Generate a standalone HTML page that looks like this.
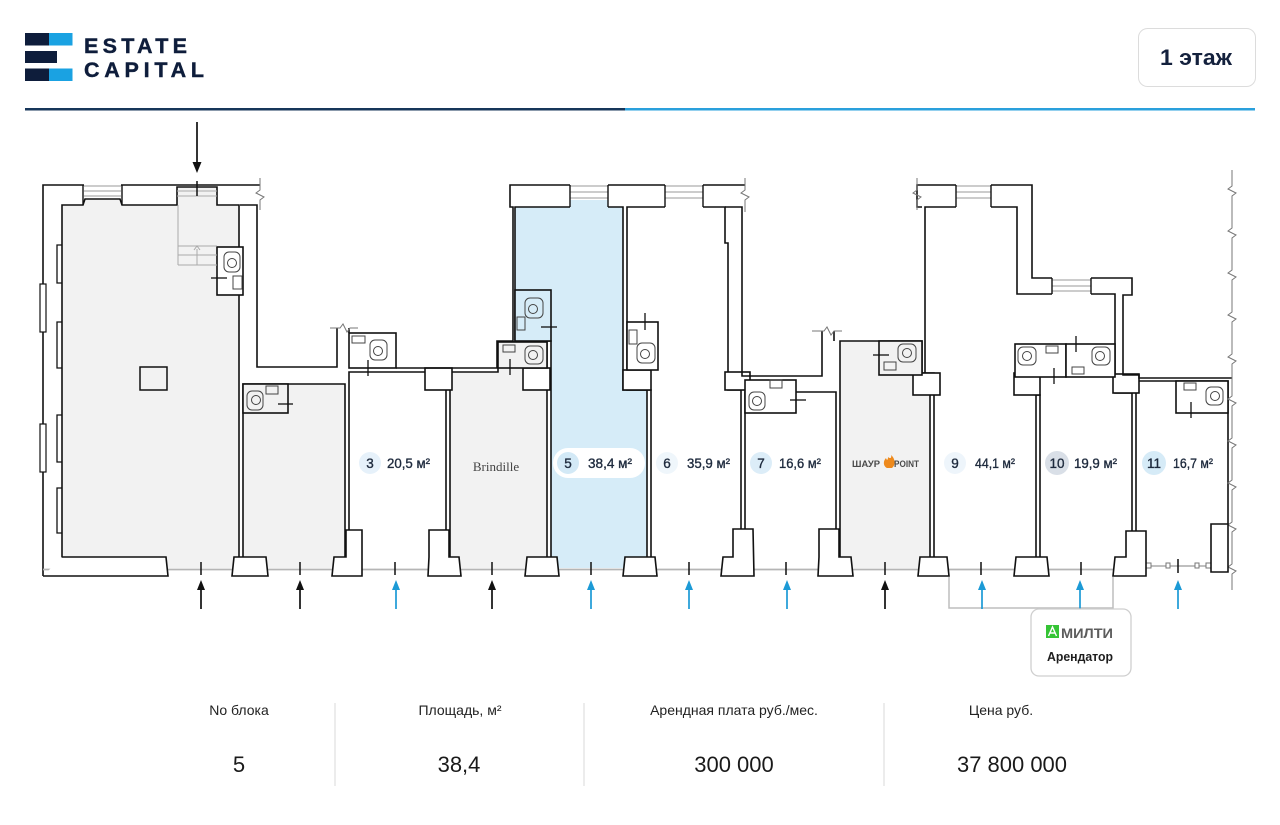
<!DOCTYPE html>
<html><head><meta charset="utf-8">
<style>
html,body{margin:0;padding:0;background:#fff;}
svg{display:block;}
text{font-family:"Liberation Sans","Noto Sans CJK SC",sans-serif;}
.g{fill:#f2f2f2;stroke:#111;stroke-width:1.6;}
.w{fill:#fff;stroke:#111;stroke-width:1.6;}
.b{fill:#d6ecf8;stroke:#111;stroke-width:1.6;}
.o{fill:none;stroke:#111;stroke-width:1.6;}
.t{fill:none;stroke:#444;stroke-width:1;}
.gl{fill:none;stroke:#aaa;stroke-width:1;}
.lbl{font-size:13.5px;fill:#1f2b3e;stroke:#1f2b3e;stroke-width:0.35;}
</style></head><body>
<svg width="1280" height="825" viewBox="0 0 1280 825" xmlns="http://www.w3.org/2000/svg">
<!-- logo -->
<rect x="25" y="33" width="24" height="12.5" fill="#0e1d3b"/>
<rect x="49" y="33" width="23.5" height="12.5" fill="#1aa2e2"/>
<rect x="25" y="51" width="32" height="12" fill="#0e1d3b"/>
<rect x="25" y="68.5" width="24" height="12.5" fill="#0e1d3b"/>
<rect x="49" y="68.5" width="23.5" height="12.5" fill="#1aa2e2"/>
<text x="84" y="53" font-size="21.5" font-weight="bold" fill="#0e1d3b" stroke="#0e1d3b" stroke-width="0.4" textLength="103" lengthAdjust="spacing">ESTATE</text>
<text x="84" y="77" font-size="21.5" font-weight="bold" fill="#0e1d3b" stroke="#0e1d3b" stroke-width="0.4" textLength="120" lengthAdjust="spacing">CAPITAL</text>
<!-- header line -->
<rect x="25" y="108" width="600" height="2.5" fill="#17365a"/>
<rect x="625" y="108" width="630" height="2.5" fill="#2aa0dc"/>
<!-- floor button -->
<rect x="1138.5" y="28.5" width="117" height="58" rx="9" fill="#fff" stroke="#dcdcdc"/>
<text x="1196" y="65" font-size="22" font-weight="bold" fill="#14213d" text-anchor="middle" textLength="72" lengthAdjust="spacingAndGlyphs">1 этаж</text>

<!-- ROOMS -->
<path class="g" d="M62,568 L62,205 L83,205 L85,199 L120,199 L122,205 L177,205 L177,187 L217,187 L217,205 L239,205 L239,568"/>
<path class="g" d="M243,568 L243,384 L345,384 L345,568"/>
<path class="w" d="M349,568 L349,372 L446,372 L446,568"/>
<path class="g" d="M450,568 L450,372 L498,372 L498,342 L547,342 L547,568"/>
<path class="b" d="M551,568 L551,341 L515,341 L515,207 L623,207 L623,390 L647,390 L647,568"/>
<path class="w" d="M651,568 L651,390 L627,390 L627,207 L725,207 L725,243 L728,243 L728,390 L741,390 L741,568"/>
<path class="w" d="M745,568 L745,392 L836,392 L836,568"/>
<path class="g" d="M840,568 L840,341 L922,341 L922,373 L930,373 L930,568"/>
<path class="w" d="M934,568 L934,373 L925,373 L925,207 L1017,207 L1017,294 L1115,294 L1115,393 L1132,393 L1132,568"/>
<path class="w" d="M1136,568 L1136,381 L1228,381 L1228,524"/>
<rect class="w" x="1036" y="395" width="4" height="165"/>

<!-- top piers -->
<rect class="w" x="425" y="368" width="27" height="22"/>
<rect class="w" x="523" y="368" width="27" height="22"/>
<rect class="w" x="623" y="370" width="28" height="20"/>
<rect class="w" x="725" y="372" width="25" height="18"/>
<rect class="w" x="913" y="373" width="27" height="22"/>
<rect class="w" x="1014" y="373" width="26" height="22"/>
<rect class="w" x="1113" y="374" width="26" height="19"/>

<!-- toilets -->
<rect class="w" x="217" y="247" width="26" height="48"/>
<rect class="g" x="243" y="384" width="45" height="29"/>
<rect class="w" x="349" y="333" width="47" height="35"/>
<rect class="g" x="498" y="342" width="49" height="26"/>
<rect class="b" x="515" y="290" width="36" height="51"/>
<rect class="w" x="627" y="322" width="31" height="48"/>
<rect class="w" x="745" y="380" width="51" height="33"/>
<rect class="g" x="879" y="341" width="43" height="34"/>
<rect class="w" x="1015" y="344" width="51" height="33"/>
<rect class="w" x="1066" y="344" width="49" height="33"/>
<rect class="w" x="1176" y="381" width="52" height="32"/>
<g class="t">
<rect x="224" y="252" width="16" height="20" rx="5"/><circle cx="232" cy="263" r="4.5"/><rect x="233" y="276" width="9" height="13"/>
<rect x="247" y="391" width="16" height="19" rx="5"/><circle cx="256" cy="400" r="4.5"/><rect x="266" y="386" width="12" height="8"/>
<rect x="370" y="340" width="17" height="20" rx="5"/><circle cx="378" cy="351" r="4.5"/><rect x="352" y="336" width="13" height="7"/>
<rect x="525" y="346" width="18" height="18" rx="5"/><circle cx="533" cy="355" r="4.5"/><rect x="503" y="345" width="12" height="7"/>
<rect x="525" y="298" width="18" height="20" rx="5"/><circle cx="533" cy="309" r="4.5"/><rect x="517" y="317" width="8" height="13"/>
<rect x="637" y="343" width="18" height="20" rx="5"/><circle cx="645" cy="354" r="4.5"/><rect x="629" y="330" width="8" height="14"/>
<rect x="749" y="392" width="16" height="18" rx="5"/><circle cx="757" cy="401" r="4.5"/><rect x="770" y="380" width="12" height="8"/>
<rect x="898" y="344" width="18" height="18" rx="5"/><circle cx="907" cy="353" r="4.5"/><rect x="884" y="362" width="12" height="8"/>
<rect x="1018" y="347" width="18" height="18" rx="5"/><circle cx="1027" cy="356" r="4.5"/><rect x="1046" y="346" width="12" height="7"/>
<rect x="1092" y="347" width="18" height="18" rx="5"/><circle cx="1100" cy="356" r="4.5"/><rect x="1072" y="367" width="12" height="7"/>
<rect x="1206" y="387" width="17" height="18" rx="5"/><circle cx="1215" cy="396" r="4.5"/><rect x="1184" y="383" width="12" height="7"/>
</g>
<!-- door marks -->
<g stroke="#111" stroke-width="1.3">
<line x1="211" y1="278" x2="227" y2="278"/>
<line x1="278" y1="404" x2="293" y2="404"/>
<line x1="368" y1="360" x2="368" y2="376"/>
<line x1="510" y1="359" x2="510" y2="375"/>
<line x1="541" y1="327" x2="557" y2="327"/>
<line x1="645" y1="313" x2="645" y2="330"/>
<line x1="790" y1="400" x2="806" y2="400"/>
<line x1="873" y1="355" x2="889" y2="355"/>
<line x1="1054" y1="368" x2="1054" y2="384"/>
<line x1="1076" y1="336" x2="1076" y2="352"/>
<line x1="1191" y1="402" x2="1191" y2="418"/>
</g>
<!-- column -->
<rect x="140" y="367" width="27" height="23" fill="none" stroke="#111" stroke-width="1.5"/>

<!-- stairs in entrance -->
<g class="gl">
<line x1="177" y1="191" x2="217" y2="191"/>
<line x1="177" y1="196" x2="217" y2="196"/>
<line x1="178" y1="205" x2="178" y2="265"/>
<line x1="178" y1="246" x2="217" y2="246"/>
<line x1="178" y1="255" x2="217" y2="255"/>
<line x1="178" y1="265" x2="217" y2="265"/>
<line x1="197" y1="249" x2="197" y2="265"/>
<polyline points="194,250 197,246 200,250"/>
</g>
<line x1="197" y1="181" x2="197" y2="196" stroke="#111" stroke-width="1.5"/>

<!-- outer walls -->
<path class="o" d="M43,576 L43,185 L260,185"/>
<path class="o" d="M240,205 L257,205 L257,367 L337,367 L337,328"/>
<path class="o" d="M349,328 L349,333"/>
<path class="o" d="M396,368 L497,368 L497,341 L513,341 L513,207 L510,207 L510,185 L745,185"/>
<path class="o" d="M725,207 L742,207 L742,376 L822,376 L822,331"/>
<path class="o" d="M834,331 L834,341"/>
<path class="o" d="M922,207 L917,207 L917,185 L1032,185 L1032,278 L1132,278 L1132,295 L1123,295 L1123,375 L1139,375 L1139,378 L1232,378"/>
<!-- break marks -->
<g fill="none" stroke="#777" stroke-width="1">
<polyline points="260,178 260,190 256,193 264,197 260,200 260,210"/>
<polyline points="330,328 340,328 343,324 347,332 350,328 358,328"/>
<polyline points="745,178 745,190 741,193 749,197 745,200 745,212"/>
<polyline points="812,331 824,331 827,327 831,335 834,331 842,331"/>
<polyline points="917,178 917,190 913,193 921,197 917,200 917,210"/>
<polyline points="1232,170 1232,186 1228,189 1236,193 1232,196 1232,228 1228,231 1236,235 1232,238 1232,270 1228,273 1236,277 1232,280 1232,312 1228,315 1236,319 1232,322 1232,354 1228,357 1236,361 1232,364 1232,396 1228,399 1236,403 1232,406 1232,438 1228,441 1236,445 1232,448 1232,480 1228,483 1236,487 1232,490 1232,522 1228,525 1236,529 1232,532 1232,564 1228,567 1236,571 1232,574 1232,590"/>
</g>

<!-- top windows -->
<g>
<rect x="84" y="184" width="37" height="14" fill="#fff"/>
<line x1="84" y1="186" x2="121" y2="186" stroke="#999"/><line x1="84" y1="191" x2="121" y2="191" stroke="#999"/><line x1="84" y1="196" x2="121" y2="196" stroke="#999"/>
<line x1="83" y1="185" x2="83" y2="205" stroke="#111" stroke-width="1.4"/><line x1="122" y1="185" x2="122" y2="205" stroke="#111" stroke-width="1.4"/>

<rect x="570" y="184" width="38" height="16" fill="#fff"/><rect x="570" y="200" width="38" height="8" fill="#d6ecf8"/>
<line x1="570" y1="186" x2="608" y2="186" stroke="#999"/><line x1="570" y1="192" x2="608" y2="192" stroke="#999"/><line x1="570" y1="198" x2="608" y2="198" stroke="#999"/>
<line x1="570" y1="185" x2="570" y2="207" stroke="#111" stroke-width="1.4"/><line x1="608" y1="185" x2="608" y2="207" stroke="#111" stroke-width="1.4"/>

<rect x="665" y="184" width="38" height="24" fill="#fff"/>
<line x1="665" y1="186" x2="703" y2="186" stroke="#999"/><line x1="665" y1="192" x2="703" y2="192" stroke="#999"/><line x1="665" y1="198" x2="703" y2="198" stroke="#999"/>
<line x1="665" y1="185" x2="665" y2="207" stroke="#111" stroke-width="1.4"/><line x1="703" y1="185" x2="703" y2="207" stroke="#111" stroke-width="1.4"/>

<rect x="956" y="184" width="35" height="24" fill="#fff"/>
<line x1="956" y1="186" x2="991" y2="186" stroke="#999"/><line x1="956" y1="192" x2="991" y2="192" stroke="#999"/><line x1="956" y1="198" x2="991" y2="198" stroke="#999"/>
<line x1="956" y1="185" x2="956" y2="207" stroke="#111" stroke-width="1.4"/><line x1="991" y1="185" x2="991" y2="207" stroke="#111" stroke-width="1.4"/>

<rect x="1052" y="277" width="39" height="18" fill="#fff"/>
<line x1="1052" y1="280" x2="1091" y2="280" stroke="#999"/><line x1="1052" y1="286" x2="1091" y2="286" stroke="#999"/><line x1="1052" y1="291" x2="1091" y2="291" stroke="#999"/>
<line x1="1052" y1="278" x2="1052" y2="294" stroke="#111" stroke-width="1.4"/><line x1="1091" y1="278" x2="1091" y2="294" stroke="#111" stroke-width="1.4"/>
</g>
<!-- left side windows -->
<rect x="40" y="284" width="6" height="48" fill="#fff" stroke="#111" stroke-width="1.2"/>
<rect x="40" y="424" width="6" height="48" fill="#fff" stroke="#111" stroke-width="1.2"/>
<path d="M62,245 L57,245 L57,283 L62,283 M62,322 L57,322 L57,368 L62,368 M62,415 L57,415 L57,462 L62,462 M62,488 L57,488 L57,533 L62,533" fill="none" stroke="#111" stroke-width="1.3"/>

<!-- glass line bottom -->
<line x1="43" y1="569.5" x2="1146" y2="569.5" stroke="#b5b5b5" stroke-width="1.8"/>
<line x1="1146" y1="566" x2="1211" y2="566" stroke="#999" stroke-width="1.2"/>
<g fill="#fff" stroke="#777" stroke-width="1"><rect x="1146" y="563" width="5" height="5"/><rect x="1166" y="563" width="4" height="5"/><rect x="1195" y="563" width="4" height="5"/><rect x="1206" y="563" width="5" height="5"/></g>

<!-- bottom walls & piers -->
<g class="w">
<path d="M62,557 L166,557 L168,576 L43,576"/>
<path d="M232,576 L234,557 L266,557 L268,576 Z"/>
<path d="M332,576 L334,557 L346,557 L346,530 L362,530 L362,576 Z"/>
<path d="M428,576 L429,557 L429,530 L449,530 L449,557 L459,557 L461,576 Z"/>
<path d="M525,576 L527,557 L557,557 L559,576 Z"/>
<path d="M623,576 L625,557 L655,557 L657,576 Z"/>
<path d="M721,576 L723,557 L733,557 L733,529 L753,529 L754,576 Z"/>
<path d="M818,576 L819,557 L819,529 L839,529 L839,557 L851,557 L853,576 Z"/>
<path d="M918,576 L920,557 L947,557 L949,576 Z"/>
<path d="M1014,576 L1016,557 L1047,557 L1049,576 Z"/>
<path d="M1113,576 L1115,557 L1126,557 L1126,531 L1146,531 L1146,576 Z"/>
<path d="M1211,572 L1211,524 L1228,524 L1228,572 Z"/>
</g>

<!-- entrance ticks -->
<g stroke="#111" stroke-width="1.5">
<line x1="201" y1="562" x2="201" y2="575"/><line x1="300" y1="562" x2="300" y2="575"/><line x1="395" y1="562" x2="395" y2="575"/><line x1="492" y1="562" x2="492" y2="575"/><line x1="591" y1="562" x2="591" y2="575"/><line x1="689" y1="562" x2="689" y2="575"/><line x1="786" y1="562" x2="786" y2="575"/><line x1="885" y1="562" x2="885" y2="575"/><line x1="981" y1="562" x2="981" y2="575"/><line x1="1081" y1="562" x2="1081" y2="575"/><line x1="1178" y1="559" x2="1178" y2="573"/>
</g>

<!-- bracket -->
<path d="M949,577 L949,608 L1113,608 L1113,577" fill="none" stroke="#bdbdbd" stroke-width="1.5"/>

<!-- arrows -->
<g stroke="#111" stroke-width="1.7">
<line x1="197" y1="122" x2="197" y2="164"/>
<line x1="201" y1="589" x2="201" y2="609"/><line x1="300" y1="589" x2="300" y2="609"/><line x1="492" y1="589" x2="492" y2="609"/><line x1="885" y1="589" x2="885" y2="609"/>
</g>
<g fill="#111">
<polygon points="192.5,162 201.5,162 197,173"/>
<polygon points="201,580 197,590 205,590"/><polygon points="300,580 296,590 304,590"/><polygon points="492,580 488,590 496,590"/><polygon points="885,580 881,590 889,590"/>
</g>
<g stroke="#1c9ad6" stroke-width="1.7">
<line x1="396" y1="589" x2="396" y2="609"/><line x1="591" y1="589" x2="591" y2="609"/><line x1="689" y1="589" x2="689" y2="609"/><line x1="787" y1="589" x2="787" y2="609"/><line x1="982" y1="589" x2="982" y2="609"/><line x1="1080" y1="589" x2="1080" y2="609"/><line x1="1178" y1="589" x2="1178" y2="609"/>
</g>
<g fill="#1c9ad6">
<polygon points="396,580 392,590 400,590"/><polygon points="591,580 587,590 595,590"/><polygon points="689,580 685,590 693,590"/><polygon points="787,580 783,590 791,590"/><polygon points="982,580 978,590 986,590"/><polygon points="1080,580 1076,590 1084,590"/><polygon points="1178,580 1174,590 1182,590"/>
</g>

<!-- unit labels -->
<circle cx="370" cy="463" r="11" fill="#e6f1fa"/>
<text x="370" y="468" class="lbl" text-anchor="middle">3</text>
<text x="387" y="468" class="lbl" textLength="43" lengthAdjust="spacingAndGlyphs">20,5 м²</text>

<text x="496" y="471" font-size="13" fill="#444" text-anchor="middle" style="font-family:'Liberation Serif',serif">Brindille</text>

<rect x="553" y="448" width="92" height="30" rx="15" fill="#fff"/>
<circle cx="568" cy="463" r="11" fill="#d3e9f6"/>
<text x="568" y="468" class="lbl" text-anchor="middle">5</text>
<text x="588" y="468" class="lbl" textLength="44" lengthAdjust="spacingAndGlyphs">38,4 м²</text>

<rect x="654" y="448" width="86" height="30" rx="15" fill="#fff"/>
<circle cx="667" cy="463" r="11" fill="#eff6fb"/>
<text x="667" y="468" class="lbl" text-anchor="middle">6</text>
<text x="687" y="468" class="lbl" textLength="43" lengthAdjust="spacingAndGlyphs">35,9 м²</text>

<circle cx="761" cy="463" r="11" fill="#dcedf8"/>
<text x="761" y="468" class="lbl" text-anchor="middle">7</text>
<text x="779" y="468" class="lbl" textLength="42" lengthAdjust="spacingAndGlyphs">16,6 м²</text>

<text x="852" y="467" font-size="9.5" font-weight="bold" fill="#4a4a4a" textLength="28" lengthAdjust="spacingAndGlyphs">ШАУР</text>
<path d="M887,468 C883,466 883,461 886,458 C887,461 888,460 888,457 C890,459 892,458 891,455 C895,458 896,465 892,468 Z" fill="#ee8a1d"/>
<text x="894" y="467" font-size="9.5" font-weight="bold" fill="#4a4a4a" textLength="25" lengthAdjust="spacingAndGlyphs">POINT</text>

<circle cx="955" cy="463" r="11" fill="#eef5fb"/>
<text x="955" y="468" class="lbl" text-anchor="middle">9</text>
<text x="975" y="468" class="lbl" textLength="40" lengthAdjust="spacingAndGlyphs">44,1 м²</text>

<circle cx="1057" cy="463" r="12" fill="#d9dfe7"/>
<text x="1057" y="468" class="lbl" text-anchor="middle">10</text>
<text x="1074" y="468" class="lbl" textLength="43" lengthAdjust="spacingAndGlyphs">19,9 м²</text>

<circle cx="1154" cy="463" r="12" fill="#d6ebf7"/>
<text x="1154" y="468" class="lbl" text-anchor="middle">11</text>
<text x="1173" y="468" class="lbl" textLength="40" lengthAdjust="spacingAndGlyphs">16,7 м²</text>

<!-- MILTI badge -->
<rect x="1031" y="609" width="100" height="67" rx="8" fill="#fff" stroke="#cfcfcf" stroke-width="1.3"/>
<rect x="1046" y="625" width="13" height="13" fill="#35c435"/>
<path d="M1048.5,636 L1052.5,627 L1056.5,636 M1050,633 L1055,633" fill="none" stroke="#fff" stroke-width="1.4"/>
<text x="1061" y="638" font-size="14" font-weight="bold" fill="#5c5c5c" textLength="52" lengthAdjust="spacingAndGlyphs">МИЛТИ</text>
<text x="1080" y="661" font-size="13" font-weight="bold" fill="#1e1e1e" text-anchor="middle" textLength="66" lengthAdjust="spacingAndGlyphs">Арендатор</text>

<!-- table -->
<g fill="#222" font-size="14" text-anchor="middle">
<text x="239" y="715">No блока</text>
<text x="460" y="715">Площадь, м²</text>
<text x="734" y="715">Арендная плата руб./мес.</text>
<text x="1001" y="715">Цена руб.</text>
</g>
<g fill="#1a1a1a" font-size="22" text-anchor="middle">
<text x="239" y="772">5</text>
<text x="459" y="772">38,4</text>
<text x="734" y="772">300 000</text>
<text x="1012" y="772" textLength="110" lengthAdjust="spacingAndGlyphs">37 800 000</text>
</g>
<g stroke="#dedede" stroke-width="1.2">
<line x1="335" y1="703" x2="335" y2="786"/>
<line x1="584" y1="703" x2="584" y2="786"/>
<line x1="884" y1="703" x2="884" y2="786"/>
</g>
</svg>
</body></html>
